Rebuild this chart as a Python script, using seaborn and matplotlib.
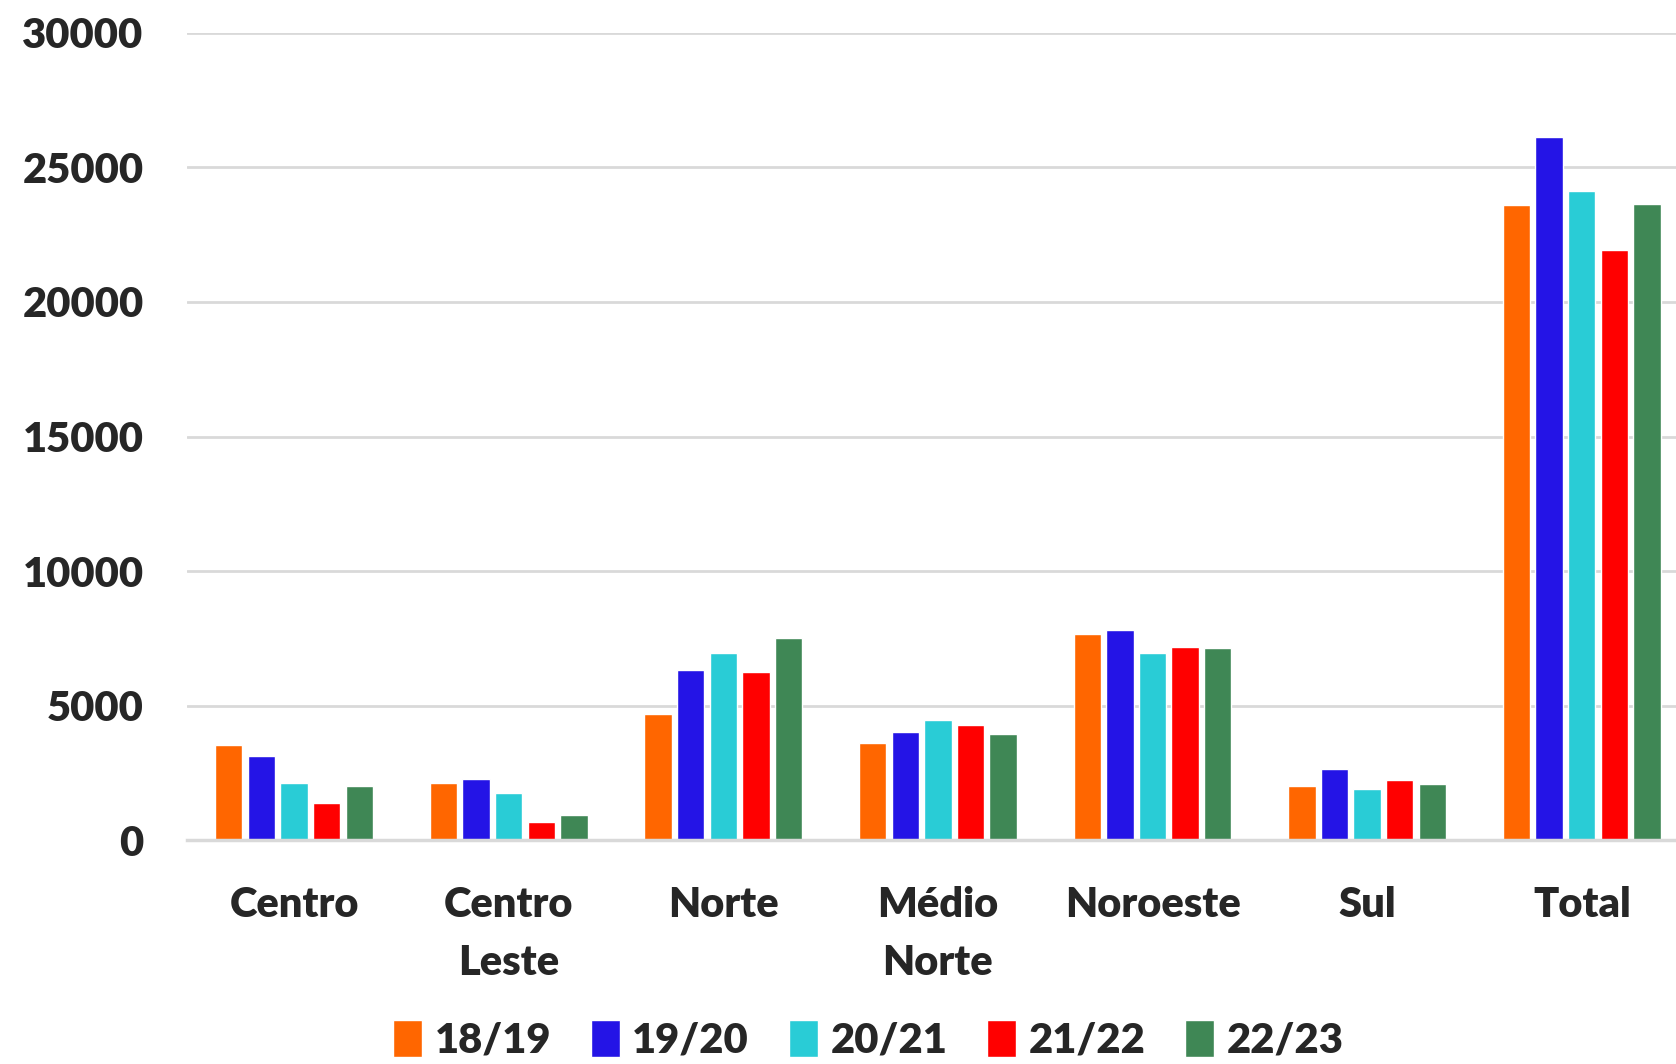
import pandas as pd
import matplotlib.pyplot as plt
import seaborn as sns

# Regions and seasons
regions = ["Centro", "Centro\nLeste", "Norte", "Médio\nNorte", "Noroeste", "Sul", "Total"]
seasons = ["18/19", "19/20", "20/21", "21/22", "22/23"]

v_1819 = [3530, 2120, 4700, 3600, 7650, 1990, 23600]
v_1920 = [3140, 2250, 6310, 4000, 7800, 2640, 26150]
v_2021 = [2130, 1750, 6940, 4460, 6940, 1890, 24120]
v_2122 = [1370, 670, 6240, 4280, 7160, 2230, 21930]
v_2223 = [2000, 940, 7510, 3940, 7120, 2100, 23630]

colors = ["#FF6600", "#2414E6", "#29CCD6", "#FF0000", "#3F8755"]

# Long format for seaborn
rows = []
for s, vals in zip(seasons, [v_1819, v_1920, v_2021, v_2122, v_2223]):
    for r, v in zip(regions, vals):
        rows.append({"regiao": r, "safra": s, "valor": v})
df = pd.DataFrame(rows)

sns.set_style("white")
plt.rcParams['font.family'] = ['Lato', 'DejaVu Sans']

fig = plt.figure(figsize=(16.76, 10.64), dpi=100)
ax = fig.add_axes([0.1114, 0.2105, 0.8964, 0.7585])

sns.barplot(data=df, x="regiao", y="valor", hue="safra", order=regions,
            hue_order=seasons, palette=colors, width=0.76, gap=0.16,
            saturation=1, ax=ax, legend=True)

ax.set_ylim(0, 30000)
ax.set_xlim(-0.5, 6.5)
ax.set_yticks(range(0, 30001, 5000))
ax.yaxis.grid(True, color="#D9D9D9", linewidth=2)
ax.set_axisbelow(True)
for sp in ["top", "right", "left"]:
    ax.spines[sp].set_visible(False)
ax.spines["bottom"].set_color("#D9D9D9")
ax.spines["bottom"].set_linewidth(2.5)

ax.set_xlabel("")
ax.set_ylabel("")
ax.tick_params(axis="both", length=0)
ax.tick_params(axis="y", pad=31)
ax.tick_params(axis="x", pad=33)
for lab in ax.get_yticklabels():
    lab.set_fontsize(30)
    lab.set_fontweight("heavy")
for lab in ax.get_xticklabels():
    lab.set_fontsize(30)
    lab.set_fontweight("heavy")
    lab.set_linespacing(1.65)

handles, labels = ax.get_legend_handles_labels()
ax.get_legend().remove()
fig.legend(handles, labels, loc="lower center", bbox_to_anchor=(0.518, -0.031),
           ncol=5, frameon=False, handlelength=0.7, handleheight=1.0,
           handletextpad=0.3, columnspacing=0.95,
           prop={"size": 30, "weight": "heavy"})

fig.savefig("out.png", dpi=100, facecolor="white")
